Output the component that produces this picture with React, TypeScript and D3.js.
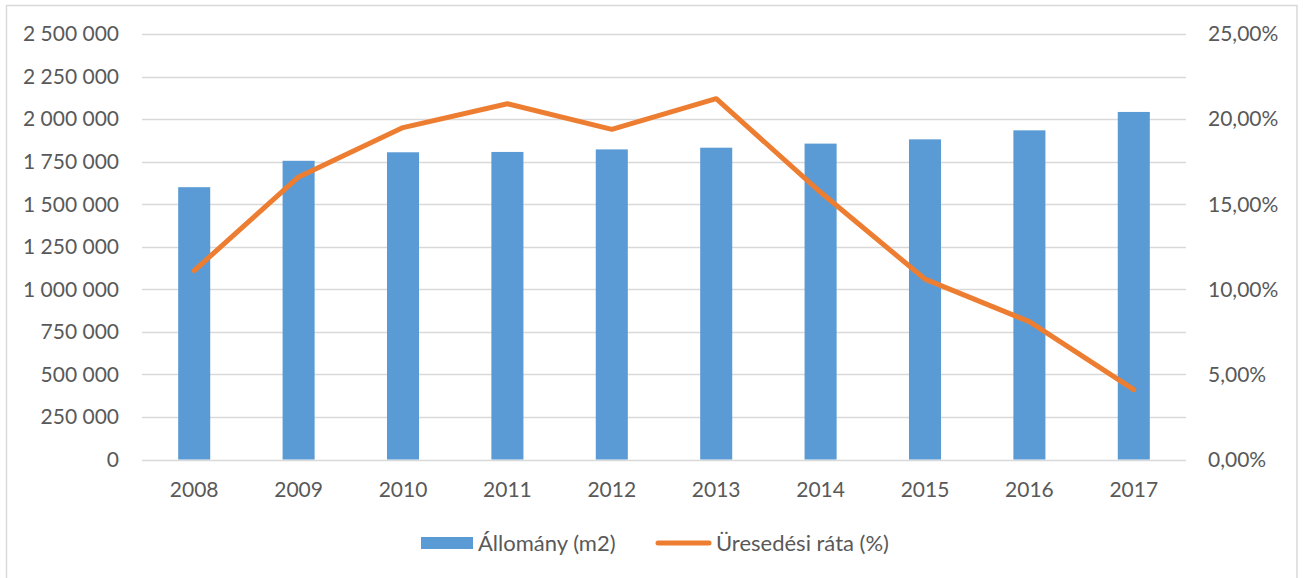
import { useRef, useEffect } from "react";
import { select, scaleBand, scaleLinear, line, range } from "d3";

// data
const years = ["2008", "2009", "2010", "2011", "2012", "2013", "2014", "2015", "2016", "2017"];
const allomany = [1600000, 1755000, 1805000, 1807000, 1822000, 1832000, 1856000, 1881000, 1934000, 2042000];
const uresedes = [11.1, 16.6, 19.5, 20.9, 19.4, 21.2, 15.7, 10.6, 8.1, 4.1];
const leftTicks = [0, 250000, 500000, 750000, 1000000, 1250000, 1500000, 1750000, 2000000, 2250000, 2500000];
const rightTicks = [0, 5, 10, 15, 20, 25];
const seriesNames = ["Állomány (m2)", "Üresedési ráta (%)"];

const W = 1304;
const H = 578;
const FONT = "Lato, 'Liberation Sans', sans-serif";
const TEXT = "#595959";
const FS = 21;

const fmtLeft = (v: number) =>
  v.toString().replace(/\B(?=(\d{3})+(?!\d))/g, " ");
const fmtRight = (v: number) => v.toFixed(2).replace(".", ",") + "%";

const App = () => {
  const svgRef = useRef<SVGSVGElement>(null);

  useEffect(() => {
    const svg = select(svgRef.current);
    svg.selectAll("*").remove();

    const left = 142;
    const right = 1186;
    const top = 34;
    const bottom = 459.5;

    const x = scaleBand<string>().domain(years).range([left, right]).paddingInner(0.693).paddingOuter(0.3465);
    const y = scaleLinear().domain([0, 2500000]).range([bottom, top]);
    const y2 = scaleLinear().domain([0, 25]).range([bottom, top]);

    // border (bottom edge outside the picture)
    svg
      .append("rect")
      .attr("x", 6.5)
      .attr("y", 5.5)
      .attr("width", 1290.5)
      .attr("height", 600)
      .attr("fill", "white")
      .attr("stroke", "#D9D9D9")
      .attr("stroke-width", 1.5);

    // gridlines
    svg
      .selectAll(".grid")
      .data(leftTicks)
      .join("line")
      .attr("x1", left)
      .attr("x2", right)
      .attr("y1", (d) => Math.round(y(d)) + 0.5)
      .attr("y2", (d) => Math.round(y(d)) + 0.5)
      .attr("stroke", "#D9D9D9")
      .attr("stroke-width", 1.5);

    // left labels
    svg
      .selectAll(".ly")
      .data(leftTicks)
      .join("text")
      .attr("x", 119)
      .attr("y", (d) => y(d))
      .attr("dy", "0.35em")
      .attr("text-anchor", "end")
      .attr("font-family", FONT)
      .attr("font-size", FS)
      .attr("fill", TEXT)
      .text((d) => fmtLeft(d));

    // right labels
    svg
      .selectAll(".ry")
      .data(rightTicks)
      .join("text")
      .attr("x", 1208)
      .attr("y", (d) => y2(d))
      .attr("dy", "0.35em")
      .attr("text-anchor", "start")
      .attr("font-family", FONT)
      .attr("font-size", FS)
      .attr("fill", TEXT)
      .text((d) => fmtRight(d));

    // bars
    svg
      .selectAll(".bar")
      .data(range(years.length))
      .join("rect")
      .attr("x", (i) => x(years[i])!)
      .attr("y", (i) => y(allomany[i]))
      .attr("width", x.bandwidth())
      .attr("height", (i) => bottom - y(allomany[i]))
      .attr("fill", "#5B9BD5");

    // line
    const ln = line<number>()
      .x((i) => x(years[i])! + x.bandwidth() / 2)
      .y((i) => y2(uresedes[i]));
    svg
      .append("path")
      .attr("d", ln(range(years.length)))
      .attr("fill", "none")
      .attr("stroke", "#ED7D31")
      .attr("stroke-width", 5)
      .attr("stroke-linejoin", "round")
      .attr("stroke-linecap", "round");

    // x labels
    svg
      .selectAll(".xl")
      .data(years)
      .join("text")
      .attr("x", (d) => x(d)! + x.bandwidth() / 2)
      .attr("y", 497)
      .attr("text-anchor", "middle")
      .attr("font-family", FONT)
      .attr("font-size", FS)
      .attr("fill", TEXT)
      .text((d) => d);

    // legend
    const lg = svg.append("g");
    lg.append("rect").attr("x", 421).attr("y", 537).attr("width", 52).attr("height", 12).attr("fill", "#5B9BD5");
    lg.append("text")
      .attr("x", 478)
      .attr("y", 551)
      .attr("font-family", FONT)
      .attr("font-size", 22)
      .attr("fill", TEXT)
      .text(seriesNames[0]);
    lg.append("line")
      .attr("x1", 658)
      .attr("x2", 709)
      .attr("y1", 543)
      .attr("y2", 543)
      .attr("stroke", "#ED7D31")
      .attr("stroke-width", 5)
      .attr("stroke-linecap", "round");
    lg.append("text")
      .attr("x", 716)
      .attr("y", 551)
      .attr("font-family", FONT)
      .attr("font-size", 22)
      .attr("fill", TEXT)
      .text(seriesNames[1]);
  }, []);

  return (
    <svg
      ref={svgRef}
      width={W}
      height={H}
      style={{ position: "absolute", left: 0, top: 0, background: "white" }}
    ></svg>
  );
};

export default App;
